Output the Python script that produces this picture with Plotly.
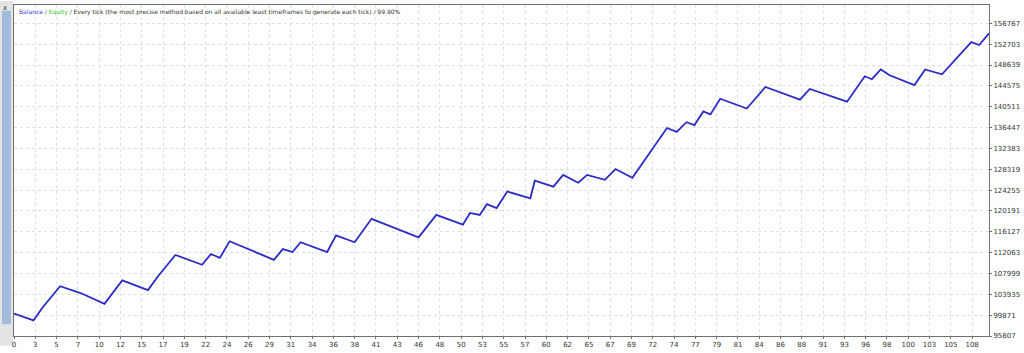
import numpy as np
import plotly.graph_objects as go

# Trade number (x) and balance (y) at the vertices of the balance curve
trade = [0, 2.2, 3.2, 5.2, 7.5, 10.2, 12.2, 15.1, 16.3, 18.2, 21.2, 22.2, 23.2, 24.3,
         29.3, 30.3, 31.4, 32.3, 35.3, 36.3, 38.4, 40.3, 45.6, 46.7, 47.6, 50.6, 51.4,
         52.5, 53.3, 54.4, 55.6, 58.2, 58.7, 60.8, 61.9, 63.6, 64.6, 66.6, 67.8, 69.7,
         73.6, 74.7, 75.8, 76.7, 77.7, 78.5, 79.6, 82.6, 84.7, 88.6, 89.7, 93.9, 95.9,
         96.7, 97.7, 98.7, 101.5, 102.7, 104.6, 107.9, 108.8, 109.9]
balance = [100185, 98853, 101327, 105515, 104182, 102089, 106657, 104753, 107609, 111606,
           109703, 111797, 111035, 114271, 110654, 112748, 112177, 114081, 112177, 115413,
           114081, 118649, 115033, 117507, 119410, 117507, 119791, 119410, 121504, 120743,
           123979, 122647, 126073, 124931, 127215, 125692, 127215, 126263, 128357, 126644,
           136352, 135591, 137494, 136923, 139588, 139017, 142062, 140159, 144346, 141872,
           143966, 141491, 146440, 145869, 147773, 146631, 144727, 147773, 146821, 153103,
           152532, 154817]

x_labels = ["0", "3", "5", "7", "10", "12", "15", "17", "19", "22", "24", "26", "29", "31",
            "34", "36", "38", "41", "43", "46", "48", "50", "53", "55", "57", "60", "62",
            "65", "67", "69", "72", "74", "77", "79", "81", "84", "86", "88", "91", "93",
            "96", "98", "100", "103", "105", "108"]
y_ticks = [95807, 99871, 103935, 107999, 112063, 116127, 120191, 124255, 128319,
           132383, 136447, 140511, 144575, 148639, 152703, 156767]

x_tickvals = np.linspace(0, 108, len(x_labels))

W, H = 1024, 353
ml, mr, mt, mb = 14, 35, 4, 10
pw = W - ml - mr
ph = H - mt - mb

fig = go.Figure()
fig.add_trace(go.Scatter(x=trade, y=balance, mode="lines",
                         line=dict(color="#2b2bc8", width=1.8),
                         hoverinfo="skip", showlegend=False))

axis_font = dict(family="DejaVu Sans, Liberation Sans, sans-serif", size=7, color="#333333")

fig.update_layout(
    width=W, height=H,
    margin=dict(l=ml, r=mr, t=mt, b=mb, pad=0),
    paper_bgcolor="white", plot_bgcolor="white",
    xaxis=dict(range=[0, 109.9], tickmode="array", tickvals=x_tickvals, ticktext=x_labels,
               showgrid=True, gridcolor="#e0e0e0", griddash="dot", gridwidth=1,
               showline=True, linecolor="#707070", linewidth=1, mirror=True,
               ticks="outside", ticklen=2, tickcolor="#707070",
               tickfont=axis_font, zeroline=False, fixedrange=True),
    yaxis=dict(range=[95807, 160336], side="right", tickmode="array", tickvals=y_ticks,
               ticktext=[str(v) for v in y_ticks],
               showgrid=True, gridcolor="#e0e0e0", griddash="dot", gridwidth=1,
               showline=True, linecolor="#707070", linewidth=1, mirror=True,
               ticks="outside", ticklen=2, tickcolor="#707070",
               tickfont=axis_font, zeroline=False, fixedrange=True),
)

# window frame strip on the left
fig.add_shape(type="rect", xref="paper", yref="paper",
              x0=-ml / pw, x1=-1 / pw, y0=-mb / ph, y1=(ph + mt) / ph,
              fillcolor="#e4e4e4", line=dict(width=0), layer="below")
fig.add_shape(type="rect", xref="paper", yref="paper",
              x0=-12 / pw, x1=-3 / pw, y0=12 / ph, y1=(ph - 6) / ph,
              fillcolor="#a3bcdc", line=dict(width=0), layer="below")

fig.add_annotation(
    xref="paper", yref="paper", x=3 / pw, y=(ph - 1) / ph, xanchor="left", yanchor="top",
    showarrow=False, align="left",
    text=("<span style='color:#3b3bd0'>Balance</span> / "
          "<span style='color:#2ec82e'>Equity</span> / Every tick (the most precise method "
          "based on all available least timeframes to generate each tick) / 99.90%"),
    font=dict(family="DejaVu Sans, Liberation Sans, sans-serif", size=6, color="#333333"),
)
fig.add_annotation(xref="paper", yref="paper", x=-13 / pw, y=(ph + 3) / ph,
                   xanchor="left", yanchor="top", showarrow=False, text="x",
                   font=dict(family="DejaVu Sans", size=7, color="#333333"))

fig.write_html("out.html", config={"displayModeBar": False})
